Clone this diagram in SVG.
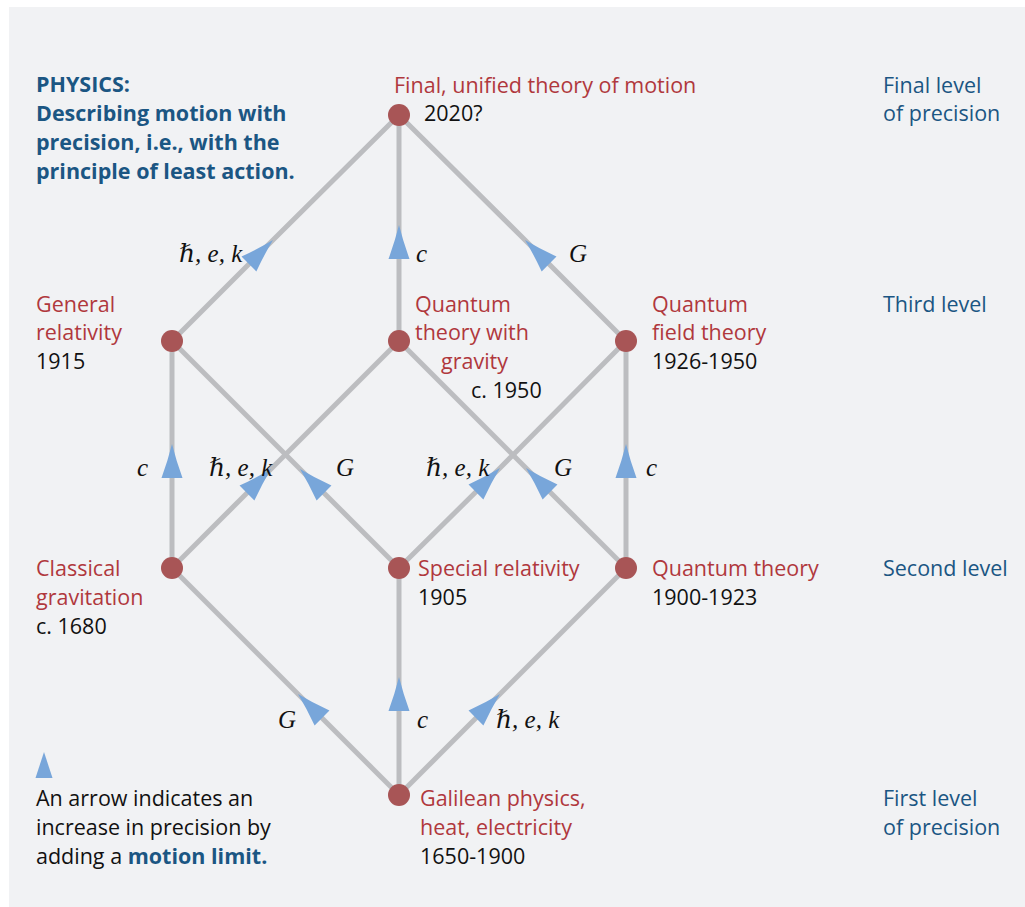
<svg xmlns="http://www.w3.org/2000/svg" width="1025" height="907" viewBox="0 0 1025 907">
<style>
.bg{fill:#f1f2f4}
.edge{fill:none;stroke:#bcbdc0;stroke-width:5;marker-mid:url(#arr)}
.node{fill:#a85556}
.t{font-family:"Open Sans","Noto Sans","Liberation Sans",sans-serif;font-size:21.5px}
.red{fill:#b0383d}
.blk{fill:#111}
.blue{fill:#1b5683}
.b{font-weight:bold}
.m{font-family:"Liberation Serif","DejaVu Serif",serif;font-style:italic;font-size:25px;fill:#111}
.arrow{fill:#78a6da}
</style>
<defs>
<marker id="arr" markerUnits="userSpaceOnUse" viewBox="-36 -12 38 24" markerWidth="38" markerHeight="24" refX="0" refY="0" orient="auto">
<path class="arrow" d="M0,0 Q-16,-4 -34,-10.5 L-34,10.5 Q-16,4 0,0 Z"/>
</marker>
</defs>
<rect class="bg" x="9" y="7" width="1016" height="900"/>
<g id="connectors">
<path class="edge" d="M399,795 L298,694 L172,568"/>
<path class="edge" d="M399,795 L399,677 L399,568"/>
<path class="edge" d="M399,795 L500,694 L626,568"/>
<path class="edge" d="M172,568 L172,444 L172,341"/>
<path class="edge" d="M172,568 L271,469 L399,341"/>
<path class="edge" d="M399,568 L300,469 L172,341"/>
<path class="edge" d="M399,568 L500,468 L626,341"/>
<path class="edge" d="M626,568 L526,468 L399,341"/>
<path class="edge" d="M626,568 L626,444 L626,341"/>
<path class="edge" d="M172,341 L273,240 L399,115"/>
<path class="edge" d="M399,341 L399,225 L399,115"/>
<path class="edge" d="M626,341 L525,240 L399,115"/>
</g>
<g id="edge-labels">
<text class="m" x="179" y="262">ℏ, e, k</text>
<text class="m" x="416" y="262">c</text>
<text class="m" x="569" y="262">G</text>
<text class="m" x="137" y="476">c</text>
<text class="m" x="209" y="476">ℏ, e, k</text>
<text class="m" x="336" y="476">G</text>
<text class="m" x="426" y="476">ℏ, e, k</text>
<text class="m" x="554" y="476">G</text>
<text class="m" x="646" y="476">c</text>
<text class="m" x="278" y="728">G</text>
<text class="m" x="417" y="728">c</text>
<text class="m" x="496" y="728">ℏ, e, k</text>
</g>
<g id="title">
<text class="t b blue" x="36" y="92">PHYSICS:</text>
<text class="t b blue" x="36" y="121">Describing motion with</text>
<text class="t b blue" x="36" y="150">precision, i.e., with the</text>
<text class="t b blue" x="36" y="179">principle of least action.</text>
</g>
<g id="levels">
<text class="t blue" x="883" y="93">Final level</text>
<text class="t blue" x="883" y="121">of precision</text>
<text class="t blue" x="883" y="312">Third level</text>
<text class="t blue" x="883" y="576">Second level</text>
<text class="t blue" x="883" y="806">First level</text>
<text class="t blue" x="883" y="835">of precision</text>
</g>
<g id="node-final">
<circle class="node" cx="399" cy="115" r="11"/>
<text class="t red" x="394" y="93">Final, unified theory of motion</text>
<text class="t blk" x="424" y="121">2020?</text>
</g>
<g id="node-general-relativity">
<circle class="node" cx="172" cy="341" r="11"/>
<text class="t red" x="36" y="312">General</text>
<text class="t red" x="36" y="340">relativity</text>
<text class="t blk" x="36" y="369">1915</text>
</g>
<g id="node-quantum-gravity">
<circle class="node" cx="399" cy="341" r="11"/>
<text class="t red" x="415" y="312">Quantum</text>
<text class="t red" x="415" y="340">theory with</text>
<text class="t red" x="441" y="369">gravity</text>
<text class="t blk" x="471" y="398">c. 1950</text>
</g>
<g id="node-qft">
<circle class="node" cx="626" cy="341" r="11"/>
<text class="t red" x="652" y="312">Quantum</text>
<text class="t red" x="652" y="340">field theory</text>
<text class="t blk" x="652" y="369">1926-1950</text>
</g>
<g id="node-classical-gravitation">
<circle class="node" cx="172" cy="568" r="11"/>
<text class="t red" x="36" y="576">Classical</text>
<text class="t red" x="36" y="605">gravitation</text>
<text class="t blk" x="36" y="634">c. 1680</text>
</g>
<g id="node-special-relativity">
<circle class="node" cx="399" cy="568" r="11"/>
<text class="t red" x="418" y="576">Special relativity</text>
<text class="t blk" x="418" y="605">1905</text>
</g>
<g id="node-quantum-theory">
<circle class="node" cx="626" cy="568" r="11"/>
<text class="t red" x="652" y="576">Quantum theory</text>
<text class="t blk" x="652" y="605">1900-1923</text>
</g>
<g id="node-galilean">
<circle class="node" cx="399" cy="795" r="11"/>
<text class="t red" x="420" y="806">Galilean physics,</text>
<text class="t red" x="420" y="835">heat, electricity</text>
<text class="t blk" x="420" y="864">1650-1900</text>
</g>
<g id="legend">
<polygon class="arrow" points="44,752 35.5,778 52.5,778"/>
<text class="t blk" x="36" y="806">An arrow indicates an</text>
<text class="t blk" x="36" y="835">increase in precision by</text>
<text class="t blk" x="36" y="864">adding a <tspan class="b blue">motion limit.</tspan></text>
</g>
</svg>
